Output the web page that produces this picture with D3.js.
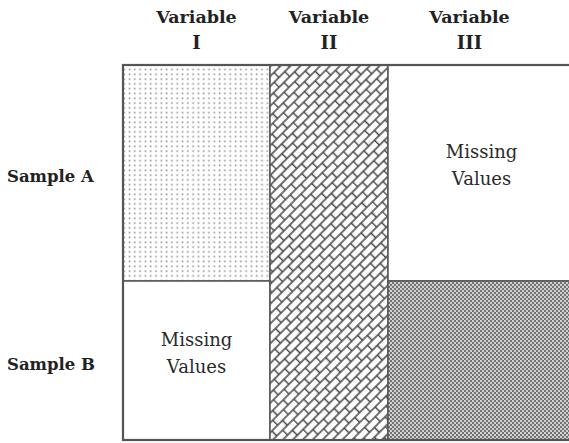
<!DOCTYPE html>
<html>
<head>
<meta charset="utf-8">
<script src="https://cdn.jsdelivr.net/npm/d3@7/dist/d3.min.js"></script>
<style>
  html, body { margin: 0; padding: 0; background: #fff; }
  svg { display: block; }
</style>
</head>
<body>
<svg id="chart" width="569" height="443"></svg>
<script>
// ---- data ----
const variables = ["I", "II", "III"];
const variableLabel = "Variable";
const variableWidths = [147, 118, 187];   // relative column widths
const samples = ["Sample A", "Sample B"];
const sampleHeights = [216, 159];         // relative row heights
const missingLabel = ["Missing", "Values"];
// cells: variable index, first sample, last sample, fill kind
const cellVariable = [0, 0, 1, 2, 2];
const cellFrom     = [0, 1, 0, 0, 1];
const cellTo       = [0, 1, 1, 0, 1];
const cellKind     = ["dots", "missing", "brick", "missing", "checker"];

// ---- layout ----
const svg = d3.select("#chart");
const margin = { left: 123, top: 65 };

const colEdges = [0, ...Array.from(d3.cumsum(variableWidths))];
const rowEdges = [0, ...Array.from(d3.cumsum(sampleHeights))];
const x = d3.scaleLinear().domain([0, d3.sum(variableWidths)]).range([margin.left, margin.left + d3.sum(variableWidths)]);
const y = d3.scaleLinear().domain([0, d3.sum(sampleHeights)]).range([margin.top, margin.top + d3.sum(sampleHeights)]);

// ---- patterns ----
const defs = svg.append("defs");

const pDots = defs.append("pattern").attr("id", "p-dots")
  .attr("patternUnits", "userSpaceOnUse").attr("width", 5.3).attr("height", 4.8);
pDots.append("rect").attr("width", 5.3).attr("height", 4.8).attr("fill", "#fff");
pDots.append("rect").attr("x", 1.5).attr("y", 1.5).attr("width", 1.6).attr("height", 1.6).attr("fill", "#8f8f8f");

const bw = 15, bh = 7;
const pBrick = defs.append("pattern").attr("id", "p-brick")
  .attr("patternUnits", "userSpaceOnUse").attr("width", bw).attr("height", bh * 2)
  .attr("patternTransform", "rotate(-45)");
pBrick.append("rect").attr("width", bw).attr("height", bh * 2).attr("fill", "#fff");
pBrick.append("path")
  .attr("d", `M0,0H${bw}M0,${bh}H${bw}M0,${2*bh}H${bw}M0.6,0V${bh}M${bw/2},${bh}V${2*bh}`)
  .attr("stroke", "#444").attr("stroke-width", 1.5).attr("fill", "none");

const pChecker = defs.append("pattern").attr("id", "p-checker")
  .attr("patternUnits", "userSpaceOnUse").attr("width", 4).attr("height", 4);
pChecker.append("rect").attr("width", 4).attr("height", 4).attr("fill", "#727272");
pChecker.append("rect").attr("x", 0).attr("y", 0).attr("width", 2).attr("height", 2).attr("fill", "#d2d2d2");
pChecker.append("rect").attr("x", 2).attr("y", 2).attr("width", 2).attr("height", 2).attr("fill", "#d2d2d2");

const fillFor = { dots: "url(#p-dots)", brick: "url(#p-brick)", checker: "url(#p-checker)", missing: "#fff" };

// ---- cells ----
const cells = cellKind.map((k, i) => ({
  kind: k,
  x0: x(colEdges[cellVariable[i]]), x1: x(colEdges[cellVariable[i] + 1]),
  y0: y(rowEdges[cellFrom[i]]), y1: y(rowEdges[cellTo[i] + 1])
}));

svg.append("g").selectAll("rect").data(cells).join("rect")
  .attr("x", d => d.x0).attr("y", d => d.y0)
  .attr("width", d => d.x1 - d.x0).attr("height", d => d.y1 - d.y0)
  .attr("fill", d => fillFor[d.kind])
  .attr("stroke", "#555").attr("stroke-width", 1.5);

// outer border
svg.append("rect")
  .attr("x", x(0)).attr("y", y(0))
  .attr("width", x(colEdges[3]) - x(0)).attr("height", y(rowEdges[2]) - y(0))
  .attr("fill", "none").attr("stroke", "#555").attr("stroke-width", 2.2);

// missing labels
const missT = svg.append("g").selectAll("text").data(cells.filter(d => d.kind === "missing")).join("text")
  .attr("text-anchor", "middle")
  .attr("font-family", "DejaVu Serif")
  .attr("font-size", 18)
  .attr("fill", "#2a2a2a");
missT.each(function(d) {
  const cx = (d.x0 + d.x1) / 2, cy = (d.y0 + d.y1) / 2;
  const t = d3.select(this);
  missingLabel.forEach((s, j) => {
    t.append("tspan").attr("x", cx).attr("y", cy - 15 + j * 27).text(s);
  });
});

// column headers
const headers = svg.append("g").selectAll("text").data(variables).join("text")
  .attr("text-anchor", "middle")
  .attr("font-family", "DejaVu Serif")
  .attr("font-weight", "bold")
  .attr("fill", "#222");
headers.each(function(v, i) {
  const cx = (x(colEdges[i]) + x(colEdges[i + 1])) / 2 + (i === variables.length - 1 ? -12 : 0);
  const t = d3.select(this);
  t.append("tspan").attr("x", cx).attr("y", 23).attr("font-size", 17.5).text(variableLabel);
  t.append("tspan").attr("x", cx).attr("y", 49).attr("font-size", 18).text(v);
});

// row labels
svg.append("g").selectAll("text").data(samples).join("text")
  .attr("x", 7)
  .attr("y", (s, i) => (y(rowEdges[i]) + y(rowEdges[i + 1])) / 2 + 9)
  .attr("font-family", "DejaVu Serif")
  .attr("font-weight", "bold")
  .attr("font-size", 16.5)
  .attr("fill", "#222")
  .text(s => s);
</script>
</body>
</html>
